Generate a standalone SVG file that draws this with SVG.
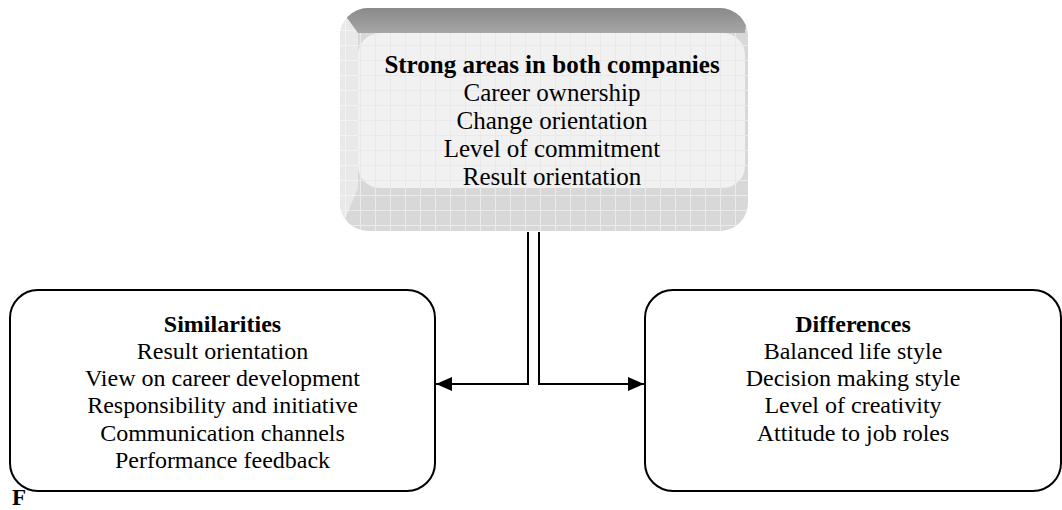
<svg xmlns="http://www.w3.org/2000/svg" width="1062" height="510" viewBox="0 0 1062 510" font-family="'Liberation Serif', 'DejaVu Serif', serif">
<style>
text{font-family:'Liberation Serif','DejaVu Serif',serif;fill:#000;text-anchor:middle}
.b{font-weight:bold}
.box{fill:#fff;stroke:#000;stroke-width:2}
.conn{fill:none;stroke:#000;stroke-width:2}
</style>
<defs>
<pattern id="gridDark" x="0" y="0" width="15" height="15" patternUnits="userSpaceOnUse">
<rect width="15" height="15" fill="#d8d8d8"/>
<path d="M0,0.5H15M0.5,0V15" stroke="#ebebeb" stroke-width="1"/>
</pattern>
<pattern id="gridLight" x="0" y="0" width="15" height="15" patternUnits="userSpaceOnUse">
<rect width="15" height="15" fill="#e9e9e9"/>
<path d="M0,0.5H15M0.5,0V15" stroke="#f3f3f3" stroke-width="1"/>
</pattern>
<pattern id="gridFace" x="0" y="0" width="15" height="15" patternUnits="userSpaceOnUse">
<rect width="15" height="15" fill="#f1f1f1"/>
<path d="M0,0.5H15M0.5,0V15" stroke="#e9e9e9" stroke-width="1"/>
</pattern>
<linearGradient id="topBevel" x1="0" y1="0" x2="0" y2="1">
<stop offset="0" stop-color="#8a8a8a"/>
<stop offset="1" stop-color="#a6a6a6"/>
</linearGradient>
<clipPath id="outerClip">
<rect x="340" y="8" width="408" height="223" rx="28"/>
</clipPath>
<marker id="arrow" viewBox="0 0 16 14" refX="16" refY="7" markerWidth="16" markerHeight="14" markerUnits="userSpaceOnUse" orient="auto">
<path d="M0,0L16,7L0,14z" fill="#000"/>
</marker>
</defs>

<g id="node-strong">
<g clip-path="url(#outerClip)">
<rect x="340" y="8" width="408" height="223" fill="url(#gridDark)"/>
<polygon points="340,8 358,33 358,188 340,231" fill="url(#gridLight)"/>
<polygon points="340,8 748,8 745,33 358,33" fill="url(#topBevel)"/>
</g>
<rect x="358" y="33" width="387" height="155" rx="22" fill="url(#gridFace)"/>
<text class="b" x="552" y="73" font-size="25">Strong areas in both companies</text>
<text x="552" y="101" font-size="25">Career ownership</text>
<text x="552" y="129" font-size="25">Change orientation</text>
<text x="552" y="157" font-size="25">Level of commitment</text>
<text x="552" y="185" font-size="25">Result orientation</text>
</g>

<g id="node-similarities">
<rect class="box" x="10" y="290" width="425" height="201" rx="28"/>
<text class="b" x="222.5" y="332" font-size="24">Similarities</text>
<text x="222.5" y="359" font-size="24">Result orientation</text>
<text x="222.5" y="386" font-size="24">View on career development</text>
<text x="222.5" y="413" font-size="24">Responsibility and initiative</text>
<text x="222.5" y="441" font-size="24">Communication channels</text>
<text x="222.5" y="468" font-size="24">Performance feedback</text>
</g>

<g id="node-differences">
<rect class="box" x="645" y="290" width="416" height="201" rx="28"/>
<text class="b" x="853" y="332" font-size="24">Differences</text>
<text x="853" y="359" font-size="24">Balanced life style</text>
<text x="853" y="386" font-size="24">Decision making style</text>
<text x="853" y="413" font-size="24">Level of creativity</text>
<text x="853" y="441" font-size="24">Attitude to job roles</text>
</g>

<g id="connectors">
<path class="conn" d="M528,232V384H436" marker-end="url(#arrow)"/>
<path class="conn" d="M539,232V384H644" marker-end="url(#arrow)"/>
</g>

<text class="b" x="12" y="505" font-size="23" style="text-anchor:start">F</text>
</svg>
